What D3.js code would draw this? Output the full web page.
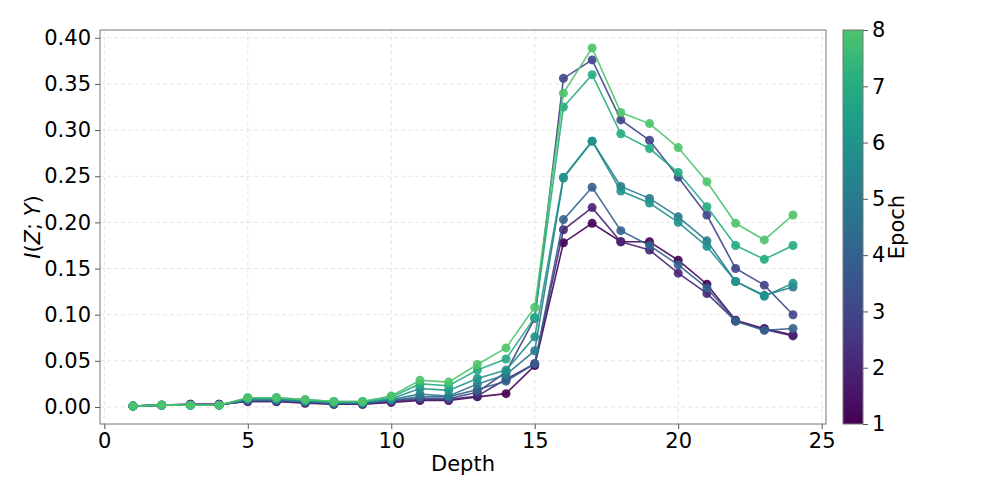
<!DOCTYPE html>
<html>
<head>
<meta charset="utf-8">
<script src="https://cdn.jsdelivr.net/npm/d3@7"></script>
<style>
  body { margin: 0; background: #fff; }
  text { font-family: "DejaVu Sans", sans-serif; }
</style>
</head>
<body>
<svg width="997" height="498"></svg>
<script>
// depth values on the x axis
const depths = d3.range(1, 25);
const epochs = [1, 2, 3, 4, 5, 6, 7, 8];

// I(Z;Y) per epoch
const epoch1 = [0.001, 0.002, 0.003, 0.003, 0.006, 0.006, 0.004, 0.003, 0.003, 0.005, 0.007, 0.007, 0.011, 0.0145, 0.045, 0.178, 0.199, 0.179, 0.179, 0.159, 0.133, 0.094, 0.085, 0.078];
const epoch2 = [0.001, 0.002, 0.003, 0.003, 0.006, 0.006, 0.005, 0.003, 0.003, 0.006, 0.008, 0.008, 0.012, 0.030, 0.047, 0.192, 0.216, 0.179, 0.170, 0.145, 0.123, 0.093, 0.084, 0.077];
const epoch3 = [0.001, 0.002, 0.002, 0.002, 0.007, 0.007, 0.005, 0.004, 0.004, 0.007, 0.009, 0.009, 0.016, 0.038, 0.096, 0.356, 0.376, 0.311, 0.289, 0.249, 0.208, 0.150, 0.132, 0.100];
const epoch4 = [0.001, 0.002, 0.002, 0.002, 0.007, 0.007, 0.006, 0.004, 0.004, 0.007, 0.011, 0.011, 0.019, 0.028, 0.047, 0.203, 0.238, 0.191, 0.175, 0.154, 0.129, 0.093, 0.083, 0.085];
const epoch5 = [0.001, 0.002, 0.002, 0.002, 0.008, 0.008, 0.006, 0.004, 0.004, 0.008, 0.014, 0.012, 0.025, 0.035, 0.061, 0.248, 0.288, 0.239, 0.226, 0.206, 0.180, 0.136, 0.121, 0.130];
const epoch6 = [0.001, 0.002, 0.002, 0.002, 0.009, 0.009, 0.007, 0.005, 0.005, 0.009, 0.020, 0.018, 0.031, 0.040, 0.076, 0.249, 0.288, 0.234, 0.221, 0.200, 0.174, 0.136, 0.120, 0.134];
const epoch7 = [0.001, 0.002, 0.002, 0.002, 0.010, 0.010, 0.008, 0.006, 0.006, 0.011, 0.025, 0.023, 0.040, 0.052, 0.097, 0.325, 0.360, 0.296, 0.280, 0.254, 0.217, 0.175, 0.160, 0.175];
const epoch8 = [0.001, 0.002, 0.002, 0.002, 0.010, 0.010, 0.008, 0.006, 0.006, 0.012, 0.029, 0.027, 0.046, 0.064, 0.108, 0.340, 0.389, 0.319, 0.307, 0.281, 0.244, 0.199, 0.181, 0.208];
const series = [epoch1, epoch2, epoch3, epoch4, epoch5, epoch6, epoch7, epoch8];

const xTicks = [0, 5, 10, 15, 20, 25];
const yTicks = [0, 0.05, 0.1, 0.15, 0.2, 0.25, 0.3, 0.35, 0.4];

const svg = d3.select("svg");
const pLeft = 100, pRight = 826, pTop = 30, pBottom = 424;
const width = pRight - pLeft, height = pBottom - pTop;
const fs = 21;

// matplotlib-like 5% padding
const xExt = d3.extent(depths), xPad = (xExt[1] - xExt[0]) * 0.05;
const allY = series.flat();
const yExt = d3.extent(allY), yPad = (yExt[1] - yExt[0]) * 0.05;

const x = d3.scaleLinear().domain([xExt[0] - xPad, xExt[1] + xPad]).range([0, width]);
const y = d3.scaleLinear().domain([yExt[0] - yPad, yExt[1] + yPad]).range([height, 0]);

// truncated viridis
const cmap = d3.scaleSequential(t => d3.interpolateViridis(t * 0.72)).domain([1, 8]);

const g = svg.append("g").attr("transform", "translate(" + pLeft + "," + pTop + ")");

// grid
g.append("g").selectAll("line").data(xTicks).enter().append("line")
  .attr("x1", d => x(d)).attr("x2", d => x(d)).attr("y1", 0).attr("y2", height)
  .attr("stroke", "#ddd").attr("stroke-dasharray", "4,3").attr("stroke-width", 0.8);
g.append("g").selectAll("line").data(yTicks).enter().append("line")
  .attr("y1", d => y(d)).attr("y2", d => y(d)).attr("x1", 0).attr("x2", width)
  .attr("stroke", "#ddd").attr("stroke-dasharray", "4,3").attr("stroke-width", 0.8);

// lines and markers
const line = d3.line().x((d, i) => x(depths[i])).y(d => y(d));
series.forEach(function (vals, k) {
  const c = cmap(epochs[k]);
  g.append("path").datum(vals)
    .attr("d", line).attr("fill", "none")
    .attr("stroke", c).attr("stroke-width", 1.6).attr("stroke-opacity", 0.9);
  g.append("g").selectAll("circle").data(vals).enter().append("circle")
    .attr("cx", (d, i) => x(depths[i])).attr("cy", d => y(d))
    .attr("r", 4.5).attr("fill", c).attr("fill-opacity", 0.9);
});

// axes
const xAxis = g.append("g").attr("transform", "translate(0," + height + ")")
  .call(d3.axisBottom(x).tickValues(xTicks).tickFormat(d3.format("d")).tickSizeOuter(0).tickSize(5).tickPadding(4));
const yAxis = g.append("g")
  .call(d3.axisLeft(y).tickValues(yTicks).tickFormat(d3.format(".2f")).tickSizeOuter(0).tickSize(5).tickPadding(4));
[xAxis, yAxis].forEach(a => {
  a.select(".domain").remove();
  a.selectAll(".tick line").attr("stroke", "#555");
  a.selectAll(".tick text").attr("font-size", fs).attr("fill", "#000");
});

// frame
g.append("rect").attr("width", width).attr("height", height)
  .attr("fill", "none").attr("stroke", "#777").attr("stroke-width", 1);

// axis labels
svg.append("text").attr("x", pLeft + width / 2).attr("y", 471)
  .attr("text-anchor", "middle").attr("font-size", fs).attr("fill", "#000").text("Depth");
const yl = svg.append("text")
  .attr("transform", "translate(40," + (pTop + height / 2) + ") rotate(-90)")
  .attr("text-anchor", "middle").attr("font-size", fs).attr("fill", "#000");
yl.append("tspan").attr("font-style", "italic").text("I");
yl.append("tspan").text("(");
yl.append("tspan").attr("font-style", "italic").text("Z");
yl.append("tspan").text("; ");
yl.append("tspan").attr("font-style", "italic").text("Y");
yl.append("tspan").text(")");

// colorbar
const cbX = 843, cbW = 20;
const defs = svg.append("defs");
const grad = defs.append("linearGradient").attr("id", "cb").attr("x1", 0).attr("y1", 1).attr("x2", 0).attr("y2", 0);
d3.range(0, 1.0001, 0.05).forEach(t => {
  grad.append("stop").attr("offset", t).attr("stop-color", cmap(1 + t * 7));
});
const cy = d3.scaleLinear().domain([1, 8]).range([pBottom, pTop]);
svg.append("rect").attr("x", cbX).attr("y", pTop).attr("width", cbW).attr("height", height)
  .attr("fill", "url(#cb)").attr("stroke", "#777").attr("stroke-width", 1);
const cbAxis = svg.append("g").attr("transform", "translate(" + (cbX + cbW) + ",0)")
  .call(d3.axisRight(cy).tickValues(epochs).tickFormat(d3.format("d")).tickSizeOuter(0).tickSize(5).tickPadding(4));
cbAxis.select(".domain").remove();
cbAxis.selectAll(".tick line").attr("stroke", "#555");
cbAxis.selectAll(".tick text").attr("font-size", fs).attr("fill", "#000");
svg.append("text").attr("transform", "translate(904," + (pTop + height / 2) + ") rotate(-90)")
  .attr("text-anchor", "middle").attr("font-size", fs).attr("fill", "#000").text("Epoch");
</script>
</body>
</html>
